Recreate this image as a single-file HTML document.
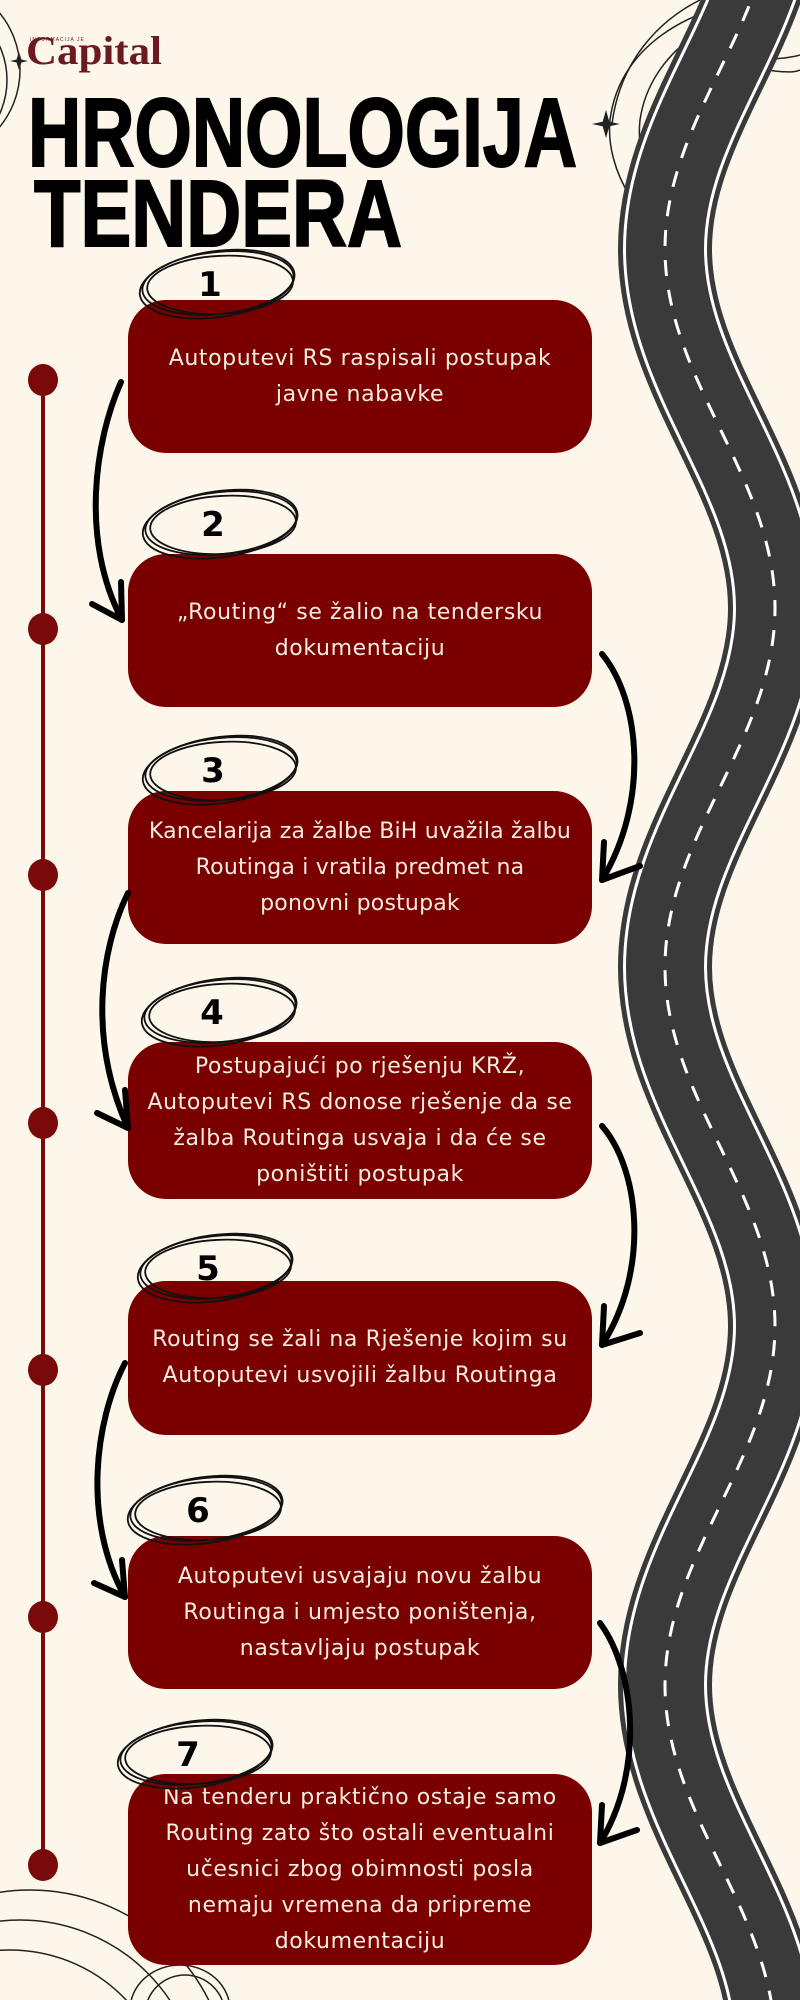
<!DOCTYPE html>
<html><head><meta charset="utf-8"><style>
html,body{margin:0;padding:0}
body{width:800px;height:2000px;background:#fdf6ea;position:relative;overflow:hidden;font-family:"DejaVu Sans","Liberation Sans",sans-serif}
svg{position:absolute;left:0;top:0;overflow:hidden}
.box{position:absolute;left:128px;width:464px;background:#7a0000;border-radius:38px;display:flex;align-items:center;justify-content:center;text-align:center;color:#f6ece0;font-size:22px;line-height:36px;letter-spacing:0.6px;white-space:nowrap}
</style></head><body>
<svg width="800" height="2000" viewBox="0 0 800 2000">
  <defs>
    <path id="rd" d="M775,-110 C775,21 665,118 665,249 C665,380 775,477 775,608 C775,739 665,836 665,967 C665,1098 775,1195 775,1326 C775,1457 665,1554 665,1685 C665,1816 775,1913 775,2044"/>
  </defs>
  <g fill="none" stroke="#222" stroke-width="1.5">
    <circle cx="-70" cy="70" r="90"/>
    <circle cx="-75" cy="80" r="82"/>
    <circle cx="30" cy="2090" r="200"/>
    <circle cx="20" cy="2100" r="180"/>
    <circle cx="10" cy="2110" r="160"/>
    <ellipse cx="180" cy="2010" rx="50" ry="45"/>
    <ellipse cx="185" cy="2015" rx="40" ry="40"/>
    <path d="M760,0 C700,5 620,40 610,120 C605,170 640,230 700,260"/>
    <path d="M780,0 C720,10 650,50 640,120 C635,170 660,210 710,230"/>
    <path d="M700,0 C660,20 620,60 612,124"/>
    <path d="M720,60 C760,70 790,75 800,70"/>
    <path d="M720,58 C760,62 790,58 800,55"/>
  </g>
  <path d="M606,110 L610,124 L606,138 L602,124Z M592,124 L606,121 L620,124 L606,127Z" fill="#222"/>
  <path d="M19,52 L22,61 L19,70 L16,61Z M10,61 L19,59 L28,61 L19,63Z" fill="#222"/>
  <g fill="none">
    <use href="#rd" stroke="#3a3a3a" stroke-width="94"/>
    <use href="#rd" stroke="#ffffff" stroke-width="84"/>
    <use href="#rd" stroke="#3a3a3a" stroke-width="78"/>
    <use href="#rd" stroke="#ffffff" stroke-width="3" stroke-dasharray="16 14"/>
  </g>
  <line x1="43" y1="380" x2="43" y2="1865" stroke="#7a0a0a" stroke-width="4"/>
  <g fill="#7a0a0a">
    <ellipse cx="43" cy="380" rx="15" ry="16"/>
    <ellipse cx="43" cy="629" rx="15" ry="16"/>
    <ellipse cx="43" cy="875" rx="15" ry="16"/>
    <ellipse cx="43" cy="1123" rx="15" ry="16"/>
    <ellipse cx="43" cy="1370" rx="15" ry="16"/>
    <ellipse cx="43" cy="1617" rx="15" ry="16"/>
    <ellipse cx="43" cy="1865" rx="15" ry="16"/>
  </g>
  <text x="30" y="41" font-family="Liberation Sans" font-size="5" fill="#6b1a22" letter-spacing="1">INFORMACIJA JE</text>
  <text x="26" y="64" font-family="Liberation Serif" font-weight="bold" font-size="40" fill="#6b1a22" textLength="136" lengthAdjust="spacingAndGlyphs">Capital</text>
  <text x="28" y="166" font-family="'Liberation Sans Narrow','Liberation Sans',sans-serif" font-weight="bold" font-size="97" fill="#000" stroke="#000" stroke-width="2" textLength="549" lengthAdjust="spacingAndGlyphs">HRONOLOGIJA</text>
  <text x="34" y="246" font-family="'Liberation Sans Narrow','Liberation Sans',sans-serif" font-weight="bold" font-size="95" fill="#000" stroke="#000" stroke-width="2" textLength="368" lengthAdjust="spacingAndGlyphs">TENDERA</text>
</svg>

<div class="box" style="top:300px;height:153px">Autoputevi RS raspisali postupak<br>javne nabavke</div>
<div class="box" style="top:554px;height:153px">„Routing“ se žalio na tendersku<br>dokumentaciju</div>
<div class="box" style="top:791px;height:153px;letter-spacing:0.2px">Kancelarija za žalbe BiH uvažila žalbu<br>Routinga i vratila predmet na<br>ponovni postupak</div>
<div class="box" style="top:1042px;height:157px">Postupajući po rješenju KRŽ,<br>Autoputevi RS donose rješenje da se<br>žalba Routinga usvaja i da će se<br>poništiti postupak</div>
<div class="box" style="top:1281px;height:154px">Routing se žali na Rješenje kojim su<br>Autoputevi usvojili žalbu Routinga</div>
<div class="box" style="top:1536px;height:153px">Autoputevi usvajaju novu žalbu<br>Routinga i umjesto poništenja,<br>nastavljaju postupak</div>
<div class="box" style="top:1774px;height:191px">Na tenderu praktično ostaje samo<br>Routing zato što ostali eventualni<br>učesnici zbog obimnosti posla<br>nemaju vremena da pripreme<br>dokumentaciju</div>

<svg width="800" height="2000" viewBox="0 0 800 2000">
  <defs>
    <g id="sc" fill="none" stroke="#111" stroke-width="1.8">
      <ellipse cx="0" cy="0" rx="76" ry="31" transform="rotate(-6)"/>
      <ellipse cx="2" cy="2" rx="73" ry="29" transform="rotate(-3)"/>
      <ellipse cx="-1" cy="1" rx="78" ry="33" transform="rotate(-8)"/>
    </g>
  </defs>
  <g font-family="DejaVu Sans" font-weight="bold" font-size="34" fill="#000" text-anchor="middle">
    <use href="#sc" x="218" y="283"/><text x="210" y="296">1</text>
    <use href="#sc" x="221" y="523"/><text x="213" y="536">2</text>
    <use href="#sc" x="221" y="769"/><text x="213" y="782">3</text>
    <use href="#sc" x="220" y="1011"/><text x="212" y="1024">4</text>
    <use href="#sc" x="216" y="1267"/><text x="208" y="1280">5</text>
    <use href="#sc" x="206" y="1509"/><text x="198" y="1522">6</text>
    <use href="#sc" x="196" y="1753"/><text x="188" y="1766">7</text>
  </g>
  <g fill="none" stroke="#000" stroke-width="6" stroke-linecap="round">
    <path d="M121,382 C95,440 80,540 122,620"/><path d="M122,620 L92,604 M122,620 L121,582"/>
    <path d="M602,654 C640,700 650,800 602,880"/><path d="M602,880 L640,866 M602,880 L604,842"/>
    <path d="M128,893 C100,950 88,1040 128,1128"/><path d="M128,1128 L97,1113 M128,1128 L125,1090"/>
    <path d="M602,1126 C640,1170 650,1270 602,1345"/><path d="M602,1345 L640,1333 M602,1345 L604,1306"/>
    <path d="M125,1363 C95,1420 82,1520 125,1597"/><path d="M125,1597 L94,1583 M125,1597 L122,1560"/>
    <path d="M600,1623 C635,1670 645,1770 600,1843"/><path d="M600,1843 L637,1830 M600,1843 L602,1805"/>
  </g>
</svg>
</body></html>
